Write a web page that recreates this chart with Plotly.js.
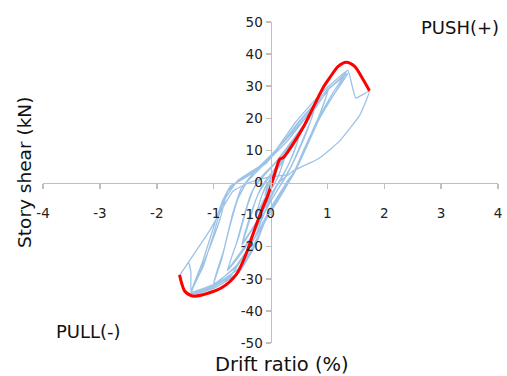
<!DOCTYPE html>
<html>
<head>
<meta charset="utf-8">
<script src="https://cdn.plot.ly/plotly-3.0.1.min.js"></script>
<style>html,body{margin:0;padding:0;background:#fff;}#chart{width:507px;height:376px;}</style>
</head>
<body>
<div id="chart"></div>
<script>
// Hysteresis history (all cycles), drift ratio (%) and story shear (kN)
const cycleDrift = [
  0,0.05,0.1,0.06,0,-0.05,-0.1,-0.05,0,0.1,0.05,-0.1,-0.04,
  0.1,0.25,0.17,0.08,-0.05,-0.25,-0.17,-0.08,0.05,0.25,0.15,0.05,-0.12,-0.26,-0.15,-0.02,
  0.15,0.3,0.5,0.38,0.24,0.12,-0.05,-0.25,-0.5,-0.38,-0.27,-0.15,0.02,0.22,0.5,0.34,0.2,0.05,-0.2,-0.5,-0.35,-0.2,-0.05,
  0.12,0.32,0.55,0.77,0.62,0.42,0.26,0.1,-0.15,-0.45,-0.76,-0.6,-0.46,-0.33,-0.15,0.1,0.4,0.76,0.56,0.36,0.2,0,-0.3,-0.75,-0.56,-0.42,-0.27,
  -0.02,0.3,0.65,1.02,0.86,0.66,0.46,0.3,0.1,-0.2,-0.55,-1.0,-0.86,-0.72,-0.57,-0.42,-0.15,0.3,0.7,1.0,0.82,0.6,0.4,0.25,0,-0.3,-0.65,-1.0,-0.82,-0.67,-0.52,
  -0.3,0.05,0.45,0.9,1.35,1.1,0.85,0.62,0.44,0.3,0.1,-0.05,-0.25,-0.55,-1.0,-1.4,-1.22,-1.04,-0.88,-0.76,-0.55,-0.2,0.15,0.5,0.95,1.36,
  1.12,0.85,0.62,0.45,0.32,0.12,-0.1,-0.3,-0.6,-1.05,-1.4,-1.2,-1.02,-0.85,-0.7,-0.49,-0.07,0.16,0.4,0.69,1.0,1.3,
  1.1,0.82,0.58,0.42,0.28,0.05,-0.2,-0.5,-0.9,-1.38,
  -1.18,-1.0,-0.83,-0.6,-0.2,0.2,0.6,0.95,1.2,1.36,1.5,1.74,1.57,1.21,0.85,0.39,0.15,-0.05,-0.3,-0.7,-1.05,-1.39,-1.4,-1.44,-1.6,-1.07,-0.66,-0.37,-0.07,0.34
];
const cycleShear = [
  0,1.5,3,1,-1,-2.5,-4,-1.5,0.5,3.2,0.5,-4.2,-0.5,
  3.5,8,3.5,0,-3.5,-10,-5,-1,2.5,7.8,2.5,-1,-5.5,-10.5,-4,0.5,
  5,9,14,8,3,-0.5,-5.5,-12.5,-19.5,-12.5,-6,-1,3,7.5,14,6.5,1.5,-3,-11,-19,-10,-3,1,
  4,9.5,16,22.5,15,7,1.5,-3,-10.5,-20.5,-27.5,-19,-10,-3,2,6.5,13.5,22,13,5,0,-6,-16,-27,-17,-8,-1,
  4,10.5,19.5,29,21,13,5,0,-6,-15,-25,-32,-24,-14,-5,0,5,13,22,28,19,10,3,-1,-8,-18,-27,-31.5,-21,-10,-2,
  3,9,19,28,35,28,20,11,4,0,-6,-10,-19,-28,-33,-35,-27,-19,-11,-3,1,5,11,19,28,34,
  27.5,19.5,10.5,4,0,-6,-12,-20,-28.5,-32.5,-34.5,-25,-15,-6,-1,1,6.1,11.3,16.5,22.7,29,33,
  27,19,10,3.5,0,-7,-16,-26,-31,-34,
  -26,-16,-6,0,5,12,20,28,32,35,26.3,28.5,21,12.8,7.5,3.5,0,-7,-18,-29,-33,-34.5,-28,-25,-29,-15,-2.7,0,1.5,2.5
];
// Envelope curve
const envDrift = [-1.6,-1.51,-1.4,-1.33,-1.1,-0.86,-0.6,-0.42,-0.31,-0.16,-0.04,0.07,0.16,0.22,0.3,0.425,0.6,0.69,0.92,1.04,1.19,1.33,1.48,1.63,1.74];
const envShear = [-28.8,-33.8,-35.2,-35.4,-34.5,-32.8,-28.6,-21.9,-16.2,-8.9,-3.7,2.5,7.2,7.7,9.5,12.8,18,21.2,29.4,32.6,36.2,37.5,36.2,32,28.6];
const xTicks = [-4,-3,-2,-1,0,1,2,3,4];
const xTickText = ['-4','-3','-2','-1','0','1','2','3','4'];
const yTicks = [-50,-40,-30,-20,-10,0,10,20,30,40,50];
const yTickText = ['-50','-40','-30','-20','-10','0','10','20','30','40','50'];

const FONT = "'DejaVu Sans', 'Noto Sans', sans-serif";
const data = [
  {x: cycleDrift, y: cycleShear, type: 'scatter', mode: 'lines',
   line: {color: '#9dc3e6', width: 1.3, shape: 'spline', smoothing: 0.35}, hoverinfo: 'skip'},
  {x: envDrift, y: envShear, type: 'scatter', mode: 'lines',
   line: {color: '#ff0000', width: 3, shape: 'spline', smoothing: 0.8}, hoverinfo: 'skip'}
];
const axisCommon = {showgrid: false, zeroline: false, showline: true, linecolor: '#bfbfbf', linewidth: 1.5,
  ticks: 'outside', ticklen: 5, tickwidth: 1.5, tickcolor: '#bfbfbf', anchor: 'free', position: 0.5,
  tickfont: {family: FONT, size: 13.5, color: '#222'}};
const layout = {
  width: 507, height: 376, paper_bgcolor: '#fff', plot_bgcolor: '#fff', showlegend: false,
  margin: {l: 43, r: 9, t: 22, b: 33},
  xaxis: Object.assign({}, axisCommon, {range: [-4, 4], tickvals: xTicks, ticktext: xTickText, side: 'bottom', ticklabelstandoff: 13}),
  yaxis: Object.assign({}, axisCommon, {range: [-50, 50], tickvals: yTicks, ticktext: yTickText, side: 'left'}),
  annotations: [
    {text: 'Story shear (kN)', xref: 'paper', yref: 'paper', x: -0.0396, y: 0.533, textangle: -90,
     showarrow: false, xanchor: 'center', yanchor: 'middle', font: {family: FONT, size: 18.5, color: '#111'}},
    {text: 'Drift ratio (%)', xref: 'paper', yref: 'paper', x: 0.525, y: -0.0685,
     showarrow: false, xanchor: 'center', yanchor: 'middle', font: {family: FONT, size: 19.5, color: '#111'}},
    {text: 'PUSH(+)', xref: 'paper', yref: 'paper', x: 0.9165, y: 0.984,
     showarrow: false, xanchor: 'center', yanchor: 'middle', font: {family: FONT, size: 18, color: '#111'}},
    {text: 'PULL(-)', xref: 'paper', yref: 'paper', x: 0.101, y: 0.037,
     showarrow: false, xanchor: 'center', yanchor: 'middle', font: {family: FONT, size: 18, color: '#111'}}
  ]
};
Plotly.newPlot('chart', data, layout, {staticPlot: true, displayModeBar: false});
</script>
</body>
</html>
